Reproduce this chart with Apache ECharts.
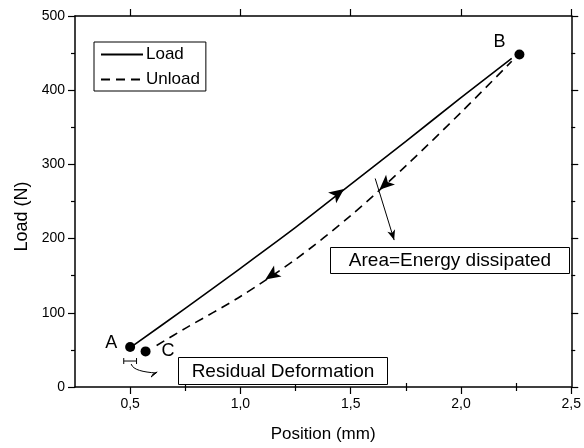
<!DOCTYPE html>
<html>
<head>
<meta charset="utf-8">
<script src="https://cdn.jsdelivr.net/npm/echarts@6/dist/echarts.min.js"></script>
<style>html,body{margin:0;padding:0;background:#fff}#c{width:584px;height:448px}</style>
</head>
<body>
<div id="c"></div>
<script>
// ---- data ----
const xLoad   = [0.51, 0.75, 1.0, 1.25, 1.5, 1.75, 2.0, 2.23];
const yLoad   = [55, 106, 160, 215, 273, 331, 390, 443];
const xUnload = [0.62, 0.75, 1.0, 1.25, 1.5, 1.75, 2.0, 2.23];
const yUnload = [56, 79, 122, 172, 231, 298, 370, 439];
const pointNames = ['A', 'B', 'C'];
const pointX = [0.5, 2.265, 0.57];
const pointY = [54, 448, 48];
const xMajorTicks = [0.5, 1.0, 1.5, 2.0, 2.5];
const xMinorTicks = [0.75, 1.25, 1.75, 2.25];
const loadArrow = [1.47, 267];
const unloadArrows = [[1.63, 266], [1.113, 145]];
const areaPointer = [[1.611, 281], [1.697, 198]];
const residualBar = [[0.471, 35], [0.529, 35]];

const FONT = "'Liberation Sans', Arial, sans-serif";
const black = '#000';
const zip = (a, b) => a.map((v, i) => [v, b[i]]);
const fmt = v => v.toFixed(1).replace('.', ',');

const chart = echarts.init(document.getElementById('c'), null, {renderer: 'canvas'});

const baseX = {
  type: 'value', min: 0.25, max: 2.5, gridIndex: 0,
  splitLine: {show: false},
  axisLine: {onZero: false, lineStyle: {color: black, width: 1.5}}
};
const baseY = {
  type: 'value', min: 0, max: 500, interval: 100, gridIndex: 0,
  splitLine: {show: false},
  axisLine: {show: true, onZero: false, lineStyle: {color: black, width: 1.5}},
  axisTick: {show: true, length: 7, lineStyle: {color: black, width: 1.2}},
  minorTick: {show: true, splitNumber: 2, length: 4, lineStyle: {color: black, width: 1.2}}
};

chart.setOption({
  animation: false,
  backgroundColor: '#fff',
  textStyle: {fontFamily: FONT},
  grid: {left: 75, right: 8, top: 16, bottom: 59, containLabel: false},
  legend: {
    data: ['Load', 'Unload'],
    left: 94, top: 42, orient: 'vertical',
    borderColor: black, borderWidth: 1, padding: [4, 6, 3, 6],
    itemWidth: 42, itemHeight: 14, itemGap: 8,
    itemStyle: {opacity: 0},
    textStyle: {fontSize: 17, color: black, fontFamily: FONT, padding: [0, 0, 0, -2]}
  },
  xAxis: [
    Object.assign({}, baseX, {
      position: 'bottom',
      name: 'Position (mm)', nameLocation: 'middle', nameGap: 39,
      nameTextStyle: {fontSize: 17, color: black, fontFamily: FONT},
      axisTick: {show: true, length: 7, customValues: xMajorTicks, lineStyle: {color: black, width: 1.2}},
      axisLabel: {show: true, customValues: xMajorTicks, formatter: fmt, fontSize: 14, color: black, margin: 10, fontFamily: FONT}
    }),
    Object.assign({}, baseX, {
      position: 'bottom',
      axisLine: {show: false},
      axisTick: {show: true, length: 4, customValues: xMinorTicks, lineStyle: {color: black, width: 1.2}},
      axisLabel: {show: false}
    }),
    Object.assign({}, baseX, {
      position: 'top',
      axisTick: {show: true, length: 7, customValues: xMajorTicks, lineStyle: {color: black, width: 1.2}},
      axisLabel: {show: false}
    }),
    Object.assign({}, baseX, {
      position: 'top',
      axisLine: {show: false},
      axisTick: {show: true, length: 4, customValues: xMinorTicks, lineStyle: {color: black, width: 1.2}},
      axisLabel: {show: false}
    })
  ],
  yAxis: [
    Object.assign({}, baseY, {
      position: 'left',
      name: 'Load (N)', nameLocation: 'middle', nameGap: 44,
      nameTextStyle: {fontSize: 18, color: black, fontFamily: FONT, padding: [0, 30, 0, 0]},
      axisLabel: {show: true, fontSize: 14, color: black, margin: 10, fontFamily: FONT}
    }),
    Object.assign({}, baseY, {
      position: 'right',
      axisLabel: {show: false}
    })
  ],
  series: [
    {
      name: 'Load', type: 'line', xAxisIndex: 0, yAxisIndex: 0,
      data: zip(xLoad, yLoad), symbol: 'none', smooth: 0.3,
      lineStyle: {color: black, width: 1.6, type: 'solid'},
      itemStyle: {color: black},
      markPoint: {
        symbol: 'arrow', symbolSize: [10, 15], label: {show: false},
        itemStyle: {color: black},
        data: [{coord: loadArrow, symbolRotate: -53}]
      }
    },
    {
      name: 'Unload', type: 'line', xAxisIndex: 0, yAxisIndex: 0,
      data: zip(xUnload, yUnload), symbol: 'none', smooth: 0.3,
      lineStyle: {color: black, width: 1.6, type: [9, 6]},
      itemStyle: {color: black},
      markPoint: {
        symbol: 'arrow', symbolSize: [10, 15], label: {show: false},
        itemStyle: {color: black},
        data: [
          {coord: unloadArrows[0], symbolRotate: 132},
          {coord: unloadArrows[1], symbolRotate: 124}
        ]
      },
      markLine: {
        silent: true, symbol: ['none', 'arrow'], symbolSize: [6, 10],
        label: {show: false},
        lineStyle: {color: black, width: 1, type: 'solid'},
        data: [[{coord: areaPointer[0]}, {coord: areaPointer[1]}]]
      }
    },
    {
      name: 'Points', type: 'scatter', xAxisIndex: 0, yAxisIndex: 0,
      symbol: 'circle', symbolSize: 10, itemStyle: {color: black, opacity: 1},
      data: [
        {name: pointNames[0], value: [pointX[0], pointY[0]],
          label: {show: true, position: 'left', distance: 8, offset: [0, -4]}},
        {name: pointNames[1], value: [pointX[1], pointY[1]],
          label: {show: true, position: 'left', distance: 9, offset: [0, -13]}},
        {name: pointNames[2], value: [pointX[2], pointY[2]],
          label: {show: true, position: 'right', distance: 11, offset: [0, 0]}}
      ],
      label: {formatter: '{b}', fontSize: 18, color: black, fontFamily: FONT}
    }
  ]
});

// ---- annotations ----
const p = (x, y) => chart.convertToPixel({xAxisIndex: 0, yAxisIndex: 0}, [x, y]);
const b0 = p(residualBar[0][0], residualBar[0][1]);
const b1 = p(residualBar[1][0], residualBar[1][1]);
const cs = [ (b0[0] + b1[0]) / 2 + 1, b0[1] + 3 ];
const ce = [cs[0] + 25, cs[1] + 9];

chart.setOption({
  graphic: [
    {type: 'line', shape: {x1: b0[0], y1: b0[1], x2: b1[0], y2: b1[1]}, style: {stroke: black, lineWidth: 1}},
    {type: 'line', shape: {x1: b0[0], y1: b0[1] - 3, x2: b0[0], y2: b0[1] + 3}, style: {stroke: black, lineWidth: 1}},
    {type: 'line', shape: {x1: b1[0], y1: b1[1] - 3, x2: b1[0], y2: b1[1] + 3}, style: {stroke: black, lineWidth: 1}},
    {type: 'bezierCurve', shape: {x1: cs[0], y1: cs[1], cpx1: cs[0] + 2, cpy1: cs[1] + 6, cpx2: cs[0] + 12, cpy2: ce[1] - 1, x2: ce[0], y2: ce[1]},
      style: {stroke: black, lineWidth: 1, fill: null}},
    {type: 'polygon', shape: {points: [[ce[0] + 1, ce[1] - 1], [ce[0] - 5, ce[1] + 4], [ce[0] - 3, ce[1] + 1]]},
      style: {fill: black, stroke: black, lineWidth: 1}},
    {type: 'rect', shape: {x: 330.5, y: 247.5, width: 239, height: 26}, style: {fill: '#fff', stroke: black, lineWidth: 1}, z: 10},
    {type: 'text', x: 450, y: 261, z: 11,
      style: {text: 'Area=Energy dissipated', fill: black, fontSize: 19, fontFamily: FONT, align: 'center', verticalAlign: 'middle'}},
    {type: 'rect', shape: {x: 178.5, y: 357.5, width: 209, height: 27}, style: {fill: '#fff', stroke: black, lineWidth: 1}, z: 10},
    {type: 'text', x: 283, y: 371.5, z: 11,
      style: {text: 'Residual Deformation', fill: black, fontSize: 19, fontFamily: FONT, align: 'center', verticalAlign: 'middle'}}
  ]
});
</script>
</body>
</html>
